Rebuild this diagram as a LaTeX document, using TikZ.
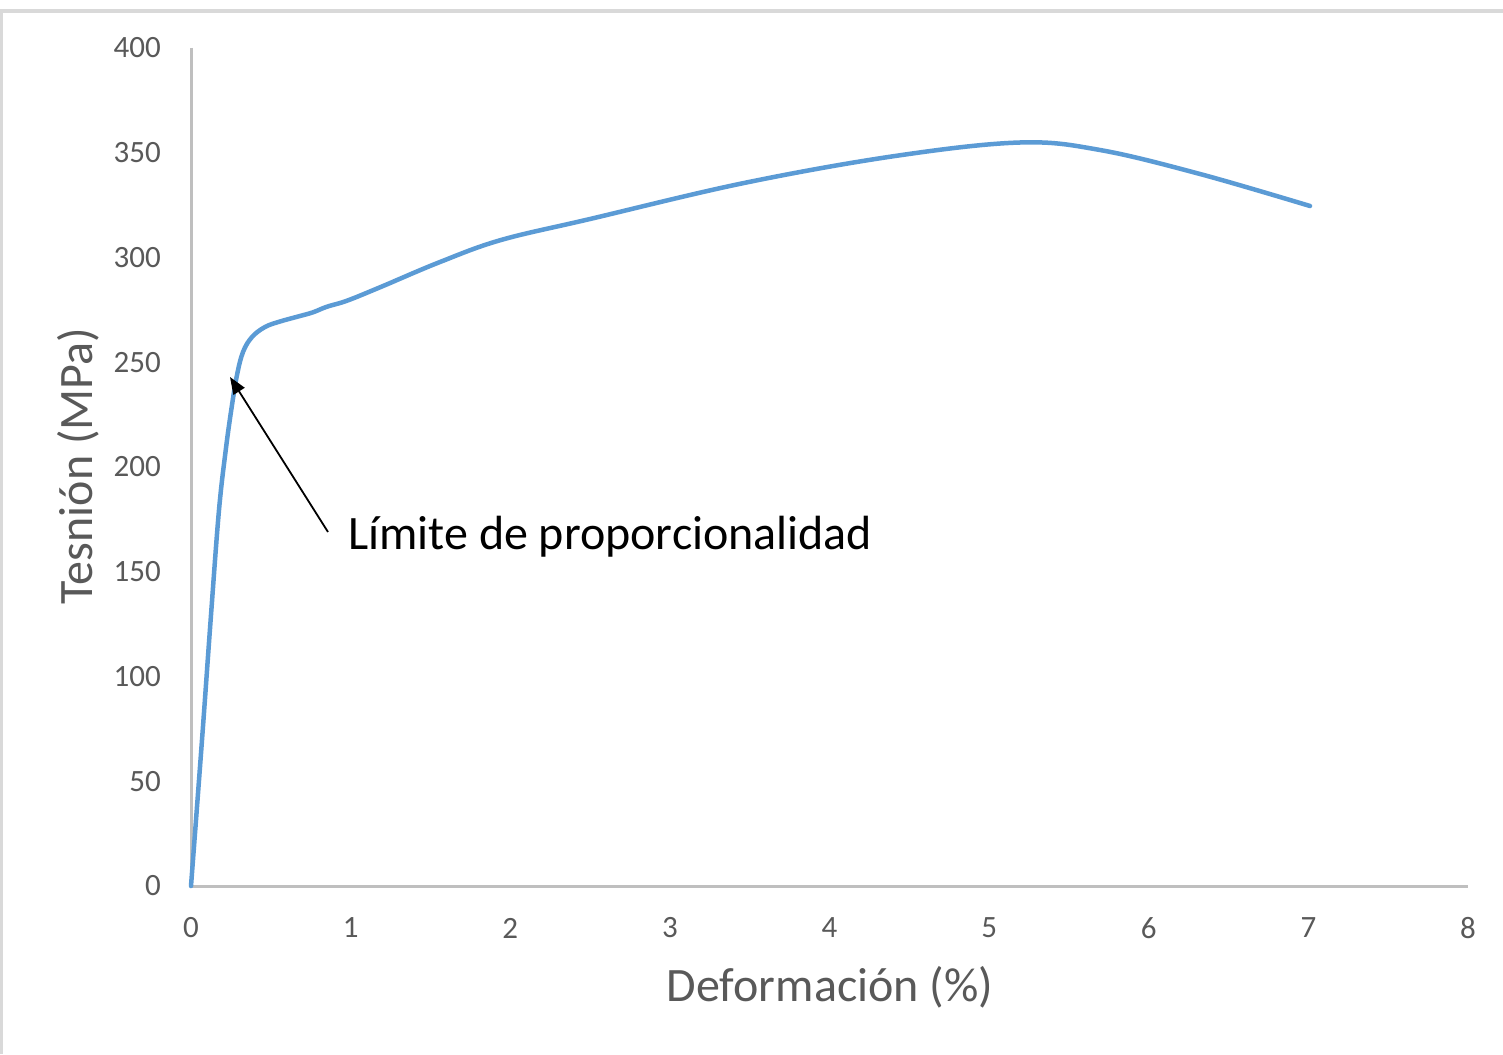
\documentclass[tikz,border=0pt]{standalone}
\usepackage{fontspec}
\setmainfont{Carlito}
\usetikzlibrary{arrows.meta}
\definecolor{axisgray}{HTML}{BFBFBF}
\definecolor{framegray}{HTML}{D9D9D9}
\definecolor{labelgray}{HTML}{595959}
\definecolor{curveblue}{HTML}{5B9BD5}
\begin{document}
\begin{tikzpicture}[x=1pt,y=-1pt,
  axisline/.style={draw=axisgray,line width=3pt},
  frameline/.style={draw=framegray,line width=3.3pt},
  ticklabel/.style={text=labelgray,font=\fontsize{31}{36}\selectfont,inner sep=0pt},
  axistitle/.style={text=labelgray,font=\fontsize{48}{56}\selectfont,inner sep=0pt},
  curve/.style={draw=curveblue,line width=4.5pt,line cap=round,line join=round},
  pointer/.style={draw=black,line width=1.8pt,-{Triangle[length=17pt,width=13pt]}},
  annot/.style={text=black,font=\fontsize{48}{56}\selectfont,inner sep=0pt,anchor=base west}]
\useasboundingbox (0,0) rectangle (1503,1054);
\fill[white] (0,0) rectangle (1503,1054);
% frame (partial)
\draw[frameline] (1.65,1054) -- (1.65,11) -- (1503,11);
% axes
\coordinate (o) at (191,886);
\coordinate (ytop) at (191,48);
\coordinate (xend) at (1468,886);
\draw[axisline] (ytop) -- (o) -- (xend);
% y tick labels
\foreach \v in {0,50,...,400}{
  \node[ticklabel,anchor=east] (yl\v) at (161,886-2.095*\v) {\v};
}
% x tick labels
\foreach \k in {0,...,8}{
  \node[ticklabel] (xl\k) at (191+159.625*\k,928) {\k};
}
% axis titles
\node[axistitle] (xtitle) at (830,987) {Deformación (\%)};
\node[axistitle,rotate=90] (ytitle) at (78,466) {Tesnión (MPa)};
% curve
\draw[curve] plot[smooth,tension=0.6] coordinates {
 (191,886) (202,740) (211,615) (219,510) (226,448) (232,405) (237,375) (243,352)
 (252,337) (265,327) (280,321.5) (300,316) (313,312.3) (327,306.7) (347,300.7)
 (380,287.3) (440,262) (501,240) (590,219) (744,183)
 (895,156) (1020,142.5) (1100,150) (1200,174) (1310,206)};
% annotation
\node[annot] (lim) at (348,549) {Límite de proporcionalidad};
\coordinate (tail) at (328,532);
\coordinate (tip) at (230,377);
\draw[pointer] (tail) -- (tip);
\end{tikzpicture}
\end{document}
